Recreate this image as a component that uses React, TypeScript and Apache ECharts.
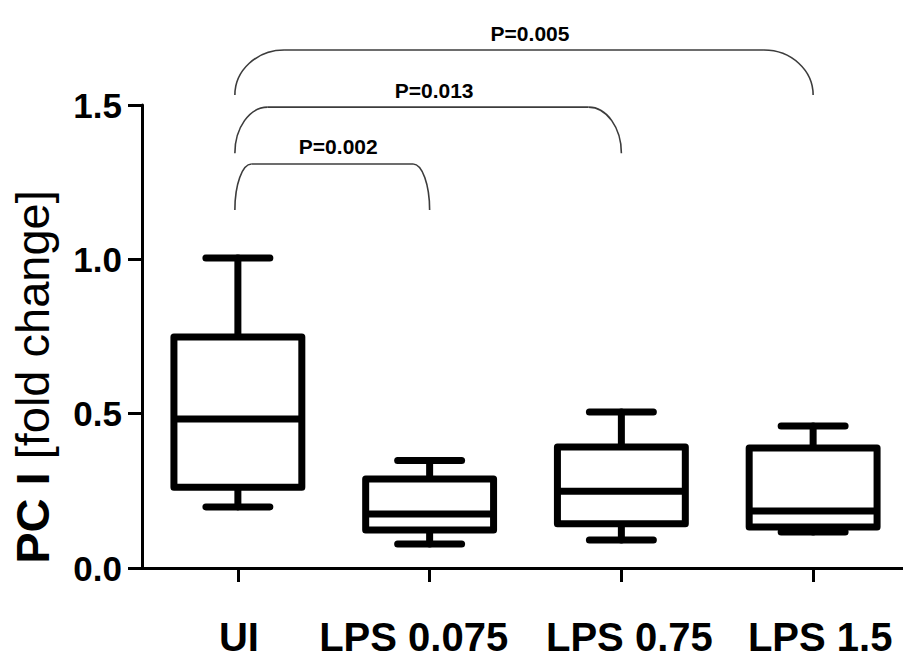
import React, { useEffect, useRef } from "react";
import * as echarts from "echarts";

const categories = ["UI", "LPS 0.075", "LPS 0.75", "LPS 1.5"];
const whiskerLow = [0.198, 0.078, 0.091, 0.117];
const quartile1 = [0.262, 0.123, 0.143, 0.133];
const medians = [0.483, 0.175, 0.249, 0.185];
const quartile3 = [0.748, 0.288, 0.392, 0.389];
const whiskerHigh = [1.004, 0.348, 0.505, 0.46];

const yTicks = [0, 0.5, 1.0, 1.5];

const compareFrom = [0, 0, 0];
const compareTo = [1, 2, 3];
const bracketBase = [1.16, 1.344, 1.532];
const bracketTop = [1.309, 1.493, 1.678];
const pLabels = ["P=0.002", "P=0.013", "P=0.005"];

const FONT = '"Liberation Sans", Arial, Helvetica, sans-serif';
// small horizontal nudges (px) of category labels, as in the original figure
const LABEL_NUDGE = [1, -16, 8, 7];

export default function App() {
  const ref = useRef<HTMLDivElement>(null);
  useEffect(() => {
    if (!ref.current) return;
    const chart = echarts.init(ref.current, null, { renderer: "svg" });

    const boxData = categories.map((_, i) => [
      i,
      whiskerLow[i],
      quartile1[i],
      medians[i],
      quartile3[i],
      whiskerHigh[i],
    ]);
    const bracketData = pLabels.map((_, i) => [
      compareFrom[i],
      compareTo[i],
      bracketBase[i],
      bracketTop[i],
    ]);

    const xData = categories.map((c, i) => {
      const n = LABEL_NUDGE[i];
      return {
        value: c,
        textStyle: { padding: n >= 0 ? [0, 0, 0, 2 * n] : [0, -2 * n, 0, 0] },
      };
    });

    const stroke = { stroke: "#000", lineWidth: 7, fill: "none", lineCap: "round", lineJoin: "round" };

    const option: any = {
      animation: false,
      backgroundColor: "#fff",
      grid: { left: 142, top: 105, bottom: 91, width: 767, containLabel: false, outerBoundsMode: "none" },
      xAxis: {
        type: "category",
        data: xData,
        boundaryGap: true,
        axisLine: { show: true, lineStyle: { color: "#000", width: 3 } },
        axisTick: { show: true, alignWithLabel: true, interval: 0, inside: false, length: 14, lineStyle: { color: "#000", width: 3 } },
        axisLabel: {
          interval: 0,
          hideOverlap: false,
          color: "#000",
          fontFamily: FONT,
          fontWeight: "bold",
          fontSize: 40,
          margin: 49,
        },
        splitLine: { show: false },
      },
      yAxis: {
        type: "value",
        min: yTicks[0],
        max: yTicks[yTicks.length - 1],
        interval: 0.5,
        axisLine: { show: true, lineStyle: { color: "#000", width: 3 } },
        axisTick: { show: true, length: 14, lineStyle: { color: "#000", width: 3 } },
        axisLabel: {
          color: "#000",
          fontFamily: FONT,
          fontWeight: "bold",
          fontSize: 35,
          margin: 20,
          formatter: (v: number) => v.toFixed(1),
        },
        splitLine: { show: false },
      },
      graphic: [
        {
          type: "text",
          x: 32,
          y: 377,
          rotation: Math.PI / 2,
          style: {
            text: "{b|PC I} {r|[fold change]}",
            align: "center",
            verticalAlign: "middle",
            fill: "#000",
            rich: {
              b: { fontFamily: FONT, fontWeight: "bold", fontSize: 47, fill: "#000" },
              r: { fontFamily: FONT, fontWeight: "normal", fontSize: 47, fill: "#000" },
            },
            fontFamily: FONT,
            fontSize: 47,
          },
        },
      ],
      series: [
        {
          type: "custom",
          name: "box",
          clip: false,
          data: boxData,
          encode: { x: 0, y: [1, 2, 3, 4, 5] },
          renderItem: (params: any, api: any) => {
            const c = api.value(0);
            const pLow = api.coord([c, api.value(1)]);
            const pQ1 = api.coord([c, api.value(2)]);
            const pMed = api.coord([c, api.value(3)]);
            const pQ3 = api.coord([c, api.value(4)]);
            const pHigh = api.coord([c, api.value(5)]);
            const band = api.size([1, 0])[0];
            const bw = band * 0.667;
            const cw = bw * 0.5;
            const cx = pMed[0];
            return {
              type: "group",
              children: [
                { type: "line", shape: { x1: cx, y1: pQ3[1], x2: cx, y2: pHigh[1] }, style: stroke },
                { type: "line", shape: { x1: cx, y1: pQ1[1], x2: cx, y2: pLow[1] }, style: stroke },
                { type: "line", shape: { x1: cx - cw / 2, y1: pHigh[1], x2: cx + cw / 2, y2: pHigh[1] }, style: stroke },
                { type: "line", shape: { x1: cx - cw / 2, y1: pLow[1], x2: cx + cw / 2, y2: pLow[1] }, style: stroke },
                {
                  type: "rect",
                  shape: { x: cx - bw / 2, y: pQ3[1], width: bw, height: pQ1[1] - pQ3[1] },
                  style: { ...stroke, fill: "#fff" },
                },
                { type: "line", shape: { x1: cx - bw / 2, y1: pMed[1], x2: cx + bw / 2, y2: pMed[1] }, style: { ...stroke, lineCap: "butt" } },
              ],
            };
          },
          z: 3,
        },
        {
          type: "custom",
          name: "brackets",
          clip: false,
          data: bracketData,
          encode: { x: [0, 1], y: [2, 3] },
          renderItem: (params: any, api: any) => {
            const a = api.coord([api.value(0), api.value(2)]);
            const b = api.coord([api.value(1), api.value(3)]);
            const x0 = a[0] - 3;
            const x1 = b[0];
            const yb = a[1];
            const yt = b[1];
            const span = x1 - x0;
            const rx = span * 0.085;
            const ry = yb - yt;
            const k = 0.5523;
            const st = { stroke: "#3c3c3c", lineWidth: 1.6, fill: "none" };
            return {
              type: "group",
              children: [
                {
                  type: "bezierCurve",
                  shape: {
                    x1: x0, y1: yb,
                    cpx1: x0, cpy1: yb - ry * k,
                    cpx2: x0 + rx * (1 - k), cpy2: yt,
                    x2: x0 + rx, y2: yt,
                  },
                  style: st,
                },
                { type: "line", shape: { x1: x0 + rx, y1: yt, x2: x1 - rx, y2: yt }, style: st },
                {
                  type: "bezierCurve",
                  shape: {
                    x1: x1 - rx, y1: yt,
                    cpx1: x1 - rx * (1 - k), cpy1: yt,
                    cpx2: x1, cpy2: yb - ry * k,
                    x2: x1, y2: yb,
                  },
                  style: st,
                },
                {
                  type: "text",
                  x: (x0 + x1) / 2 + 6,
                  y: yt - 17,
                  style: {
                    text: pLabels[params.dataIndex],
                    align: "center",
                    verticalAlign: "middle",
                    fontFamily: FONT,
                    fontWeight: "bold",
                    fontSize: 21,
                    fill: "#000",
                  },
                },
              ],
            };
          },
        },
      ],
    };
    chart.setOption(option);
    return () => chart.dispose();
  }, []);
  return (
    <div
      ref={ref}
      style={{ position: "absolute", left: 0, top: 0, width: 903, height: 659, background: "#fff" }}
    />
  );
}
